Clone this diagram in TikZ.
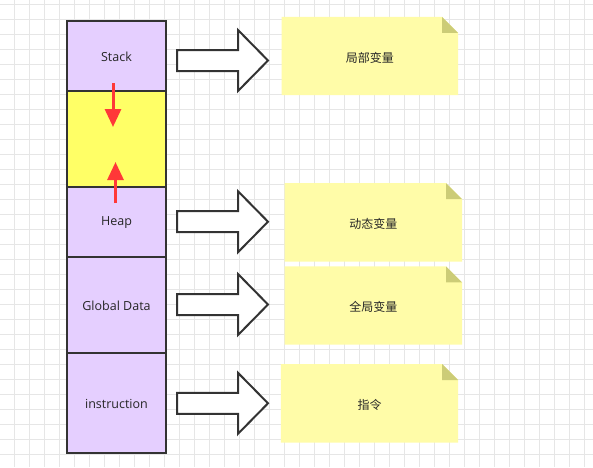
\documentclass[tikz,border=0pt]{standalone}
\usepackage{fontspec}
\setmainfont{Open Sans}
\newfontfamily\cjk{Noto Sans CJK SC}
\usetikzlibrary{arrows.meta}
\definecolor{gridc}{HTML}{E6E6E6}
\definecolor{lav}{HTML}{E5CFFF}
\definecolor{yel}{HTML}{FFFF66}
\definecolor{dark}{HTML}{333333}
\definecolor{notef}{HTML}{FFFCA8}
\definecolor{foldc}{HTML}{CCCC77}
\definecolor{redc}{HTML}{FF3838}
\tikzset{
  mem/.style={draw=dark, line width=2pt, minimum width=99pt, inner sep=0pt, font=\fontsize{12.5}{14}\selectfont, text=black!85},
  memtext/.style={inner sep=0pt, font=\fontsize{12.5}{14}\selectfont, text=black!85, yshift=-1.5pt},
  notebox/.style={minimum width=176pt, minimum height=78pt, inner sep=0pt},
  notetext/.style={inner sep=0pt, font=\cjk\fontsize{12}{14}\selectfont, text=black!85, yshift=-1.5pt},
  barrow/.pic={\draw[line width=2pt, draw=dark, fill=white, line join=miter] (0,-10.5) -- (61,-10.5) -- (61,-30.5) -- (91,0) -- (61,30.5) -- (61,10.5) -- (0,10.5) -- cycle;},
  redarrow/.style={draw=redc, line width=3pt, -{Triangle[length=18pt,width=16pt]}}
}
\newcommand{\notefill}[1]{%
  \fill[notef] (#1.south west) -- (#1.north west) -- ([xshift=-16pt]#1.north east) -- ([yshift=-16pt]#1.north east) -- (#1.south east) -- cycle;
  \fill[foldc] ([xshift=-16pt]#1.north east) -- ([xshift=-16pt,yshift=-16pt]#1.north east) -- ([yshift=-16pt]#1.north east) -- cycle;}
\begin{document}
\begin{tikzpicture}[x=1pt,y=-1pt]
\useasboundingbox (0,0) rectangle (593,467);
\fill[white] (0,0) rectangle (593,467);
\foreach \x in {14,29,...,593} \draw[gridc, line width=1pt] (\x,0) -- (\x,467);
\foreach \y in {4,19,...,467} \draw[gridc, line width=1pt] (0,\y) -- (593,\y);
% memory column
\node[mem, fill=lav, minimum height=70pt] (stack) at (116.5,55.5) {};
\node[mem, fill=yel, minimum height=96pt] (gap) at (116.5,138.5) {};
\node[mem, fill=lav, minimum height=70pt] (heap) at (116.5,221.5) {};
\node[mem, fill=lav, minimum height=96pt] (global) at (116.5,304.5) {};
\node[mem, fill=lav, minimum height=100pt] (instr) at (116.5,402.5) {};
\node[memtext] at (stack) {Stack};
\node[memtext] at (heap) {Heap};
\node[memtext] at (global) {Global Data};
\node[memtext] at (instr) {instruction};
% red arrows
\coordinate (r1s) at (113,83);
\coordinate (r1e) at (113,127);
\coordinate (r2s) at (115.5,203);
\coordinate (r2e) at (115.5,162);
\draw[redarrow] (r1s) -- (r1e);
\draw[redarrow] (r2s) -- (r2e);
% block arrows
\pic at (177,60.5) {barrow};
\pic at (177,221.7) {barrow};
\pic at (177,304.5) {barrow};
\pic at (177,403.3) {barrow};
% notes
\node[notebox, minimum width=176pt] (n1) at (369.8,56) {};
\node[notebox, minimum width=177pt] (n2) at (373.3,222.3) {};
\node[notebox, minimum width=177pt] (n3) at (373.3,305.5) {};
\node[notebox, minimum width=177pt] (n4) at (369.5,403.3) {};
\notefill{n1}\notefill{n2}\notefill{n3}\notefill{n4}
\node[notetext] at (n1) {局部变量};
\node[notetext] at (n2) {动态变量};
\node[notetext] at (n3) {全局变量};
\node[notetext] at (n4) {指令};
\end{tikzpicture}
\end{document}
